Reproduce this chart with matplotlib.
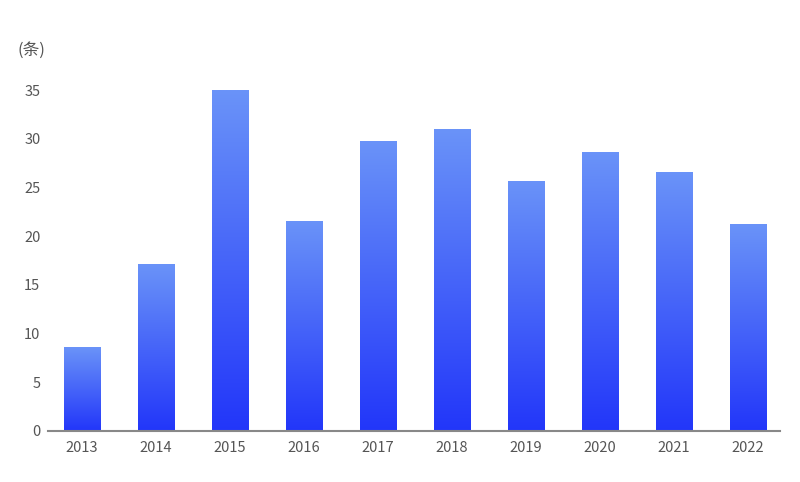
import numpy as np
import matplotlib
matplotlib.use('Agg')
import matplotlib.pyplot as plt
from matplotlib.colors import LinearSegmentedColormap

plt.rcParams['font.family'] = ['Noto Sans CJK SC', 'DejaVu Sans']

# Data
years = ['2013', '2014', '2015', '2016', '2017', '2018', '2019', '2020', '2021', '2022']
counts = [8.6, 17.1, 35.0, 21.6, 29.8, 31.0, 25.7, 28.6, 26.6, 21.2]
y_ticks = [0, 5, 10, 15, 20, 25, 30, 35]

fig = plt.figure(figsize=(8, 4.82), dpi=100)
ax = fig.add_axes([0.06, 0.106, 0.915, 0.707])

# vertical gradient: deep blue at bottom -> light blue at top
cmap = LinearSegmentedColormap.from_list('bar_grad', ['#2236fa', '#6a93f8'])
grad = np.linspace(0, 1, 256).reshape(-1, 1)

x = np.arange(len(years))
bar_w = 0.49
bars = ax.bar(x, counts, width=bar_w, color='none', edgecolor='none')
for b in bars:
    x0, w, h = b.get_x(), b.get_width(), b.get_height()
    im = ax.imshow(grad, cmap=cmap, aspect='auto', origin='lower',
                   extent=[x0, x0 + w, 0, h], zorder=2)
    im.set_clip_path(b)

ax.set_xlim(-0.46, 9.43)
ax.set_ylim(0, 35)
ax.set_xticks(x)
ax.set_xticklabels(years)
ax.set_yticks(y_ticks)

for s in ['top', 'right', 'left']:
    ax.spines[s].set_visible(False)
ax.spines['bottom'].set_color('#888888')
ax.spines['bottom'].set_linewidth(1.5)
ax.tick_params(axis='both', length=0, labelsize=10.5, colors='#555555')
ax.tick_params(axis='x', pad=7)
ax.tick_params(axis='y', pad=5.5)

fig.text(0.022, 0.895, '(条)', fontsize=12, color='#555555', va='center', ha='left')

fig.savefig('out.png', dpi=100)
